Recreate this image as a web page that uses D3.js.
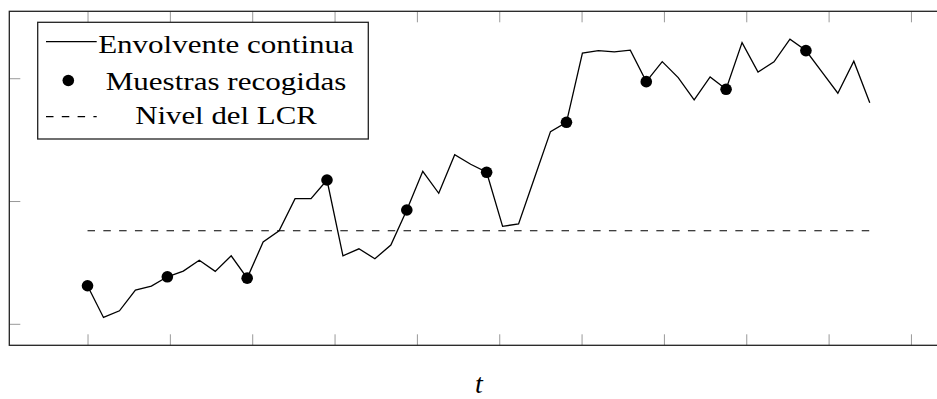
<!DOCTYPE html>
<html>
<head>
<meta charset="utf-8">
<script src="https://cdn.jsdelivr.net/npm/d3@7"></script>
<style>
  html, body { margin: 0; padding: 0; background: #fff; overflow: hidden; }
  svg { display: block; }
</style>
</head>
<body>
<div id="chart"></div>
<script>
// envelope sampled at 50 instants, t = 0 .. 9.5
const envelope = [
  0.310, 0.052, 0.106, 0.275, 0.307, 0.383, 0.429, 0.517, 0.427, 0.554,
  0.372, 0.666, 0.758, 1.019, 1.019, 1.171, 0.554, 0.611, 0.530, 0.641,
  0.927, 1.242, 1.063, 1.377, 1.299, 1.234, 0.794, 0.813, 1.190, 1.565,
  1.641, 2.204, 2.225, 2.214, 2.228, 1.972, 2.135, 2.005, 1.823, 2.011,
  1.910, 2.290, 2.051, 2.133, 2.318, 2.225, 2.051, 1.878, 2.139, 1.801
];
const tStep = 9.5 / 49;
const sampleEvery = 5;          // collected samples: every 5th point
const lcrLevel = 0.758;
const xTicks = [0, 1, 2, 3, 4, 5, 6, 7, 8, 9, 10];
const yTicks = [0, 1, 2];
const legendLabels = ['Envolvente continua', 'Muestras recogidas', 'Nivel del LCR'];
const xLabel = 't';

const data = envelope.map((v, i) => ({ t: i * tStep, v: v }));
const samples = data.filter((d, i) => i % sampleEvery === 0);

const W = 937, H = 399;
const svg = d3.select('#chart').append('svg')
  .attr('width', W)
  .attr('height', H);

const x = d3.scaleLinear().domain([-0.95, 10.45]).range([9.3, 948]);
const y = d3.scaleLinear().domain([-0.175, 2.545]).range([345.3, 11.3]);

const tickColor = '#999';
const tickLen = 11;

// ticks (inside, no labels)
function styleTicks(g) {
  g.select('.domain').remove();
  g.selectAll('.tick line').attr('stroke', tickColor).attr('stroke-width', 1);
}
svg.append('g')
  .attr('transform', `translate(0,${y.range()[0]})`)
  .call(d3.axisTop(x).tickValues(xTicks).tickSize(tickLen).tickFormat(''))
  .call(styleTicks);
svg.append('g')
  .attr('transform', `translate(0,${y.range()[1]})`)
  .call(d3.axisBottom(x).tickValues(xTicks).tickSize(tickLen).tickFormat(''))
  .call(styleTicks);
svg.append('g')
  .attr('transform', `translate(${x.range()[0]},0)`)
  .call(d3.axisRight(y).tickValues(yTicks).tickSize(tickLen).tickFormat(''))
  .call(styleTicks);
svg.append('g')
  .attr('transform', `translate(${x.range()[1]},0)`)
  .call(d3.axisLeft(y).tickValues(yTicks).tickSize(tickLen).tickFormat(''))
  .call(styleTicks);

// LCR level
svg.append('line')
  .attr('x1', x(0)).attr('x2', x(9.5))
  .attr('y1', y(lcrLevel)).attr('y2', y(lcrLevel))
  .attr('stroke', '#000')
  .attr('stroke-width', 1.2)
  .attr('stroke-dasharray', '7.5,8.3');

// envelope
const line = d3.line().x(d => x(d.t)).y(d => y(d.v));
svg.append('path')
  .datum(data)
  .attr('d', line)
  .attr('fill', 'none')
  .attr('stroke', '#000')
  .attr('stroke-width', 1.3)
  .attr('stroke-linejoin', 'miter');

// samples
svg.selectAll('circle.sample')
  .data(samples)
  .enter()
  .append('circle')
  .attr('class', 'sample')
  .attr('cx', d => x(d.t))
  .attr('cy', d => y(d.v))
  .attr('r', 5.8)
  .attr('fill', '#000');

// frame
svg.append('rect')
  .attr('x', x.range()[0]).attr('y', y.range()[1])
  .attr('width', x.range()[1] - x.range()[0])
  .attr('height', y.range()[0] - y.range()[1])
  .attr('fill', 'none')
  .attr('stroke', '#222')
  .attr('stroke-width', 1.3);

// legend
const font = '"Liberation Serif", "DejaVu Serif", serif';
const legend = svg.append('g');
legend.append('rect')
  .attr('x', 37.7).attr('y', 22.3)
  .attr('width', 330.6).attr('height', 116.7)
  .attr('fill', '#fff')
  .attr('stroke', '#222')
  .attr('stroke-width', 1.3);

const rowY = [41.7, 80.5, 116.7];
const baseY = [53.3, 89.8, 124];
const widths = [255.7, 240.7, 181.7];

legend.append('line')
  .attr('x1', 46).attr('x2', 96.7)
  .attr('y1', rowY[0]).attr('y2', rowY[0])
  .attr('stroke', '#000').attr('stroke-width', 1.3);
legend.append('circle')
  .attr('cx', 68.3).attr('cy', rowY[1]).attr('r', 5.8).attr('fill', '#000');
legend.append('line')
  .attr('x1', 46).attr('x2', 96.7)
  .attr('y1', rowY[2]).attr('y2', rowY[2])
  .attr('stroke', '#000').attr('stroke-width', 1.2)
  .attr('stroke-dasharray', '7.5,8.3');

legend.selectAll('text.lab')
  .data(legendLabels)
  .enter()
  .append('text')
  .attr('class', 'lab')
  .attr('x', 226)
  .attr('y', (d, i) => baseY[i])
  .attr('text-anchor', 'middle')
  .attr('font-family', font)
  .attr('font-size', 26)
  .attr('textLength', (d, i) => widths[i])
  .attr('lengthAdjust', 'spacingAndGlyphs')
  .attr('fill', '#000')
  .text(d => d);

// axis label
svg.append('text')
  .attr('x', 479)
  .attr('y', 393)
  .attr('text-anchor', 'middle')
  .attr('font-family', font)
  .attr('font-style', 'italic')
  .attr('font-size', 28)
  .text(xLabel);
</script>
</body>
</html>
